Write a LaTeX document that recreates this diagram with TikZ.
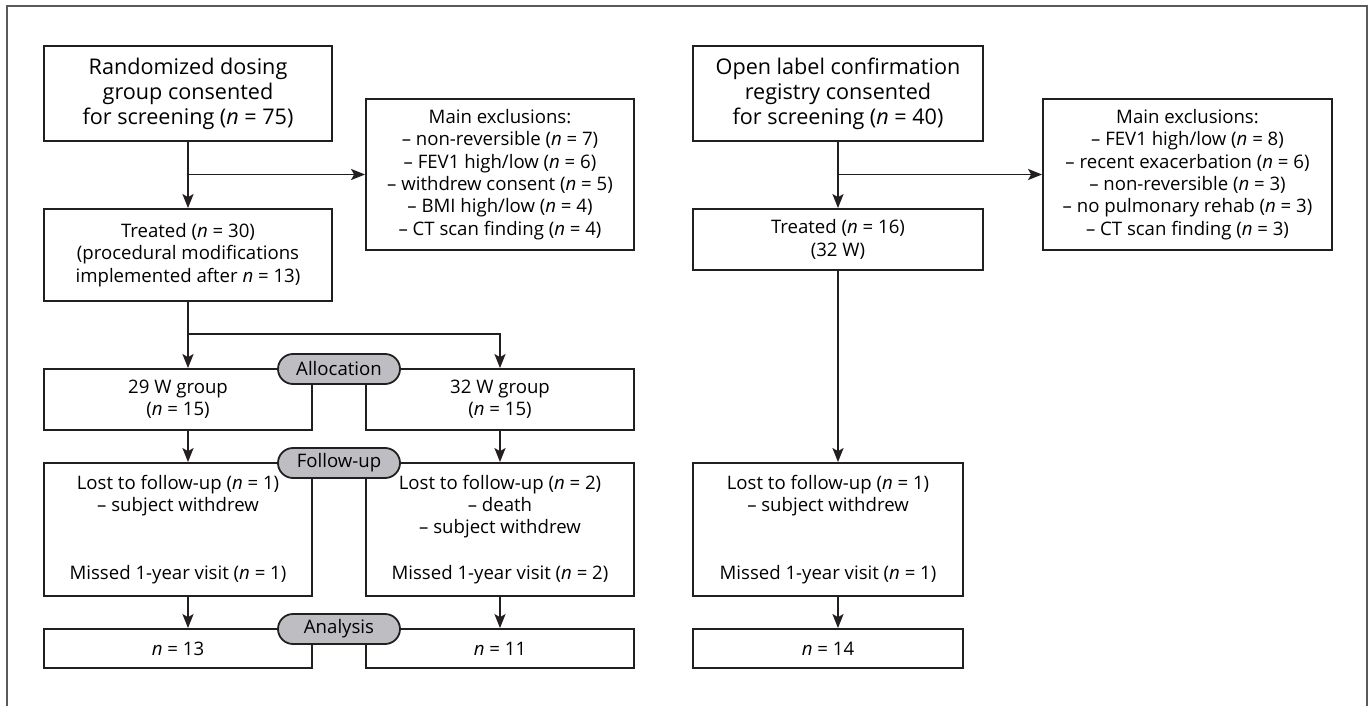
\documentclass[tikz,border=0pt]{standalone}
\usepackage{fontspec}
\setmainfont{Open Sans}
\usetikzlibrary{arrows.meta}
\definecolor{ink}{HTML}{231F20}
\definecolor{pillgray}{HTML}{BEBEC2}
\definecolor{framegray}{HTML}{5A5A5A}
\newcommand{\fsmall}{\fontsize{9.3}{11.15}\selectfont}
\newcommand{\fbig}{\fontsize{10.8}{12.5}\selectfont}
\begin{document}
\begin{tikzpicture}[x=0.5pt,y=-0.5pt,
  box/.style={draw=ink, line width=0.9pt, inner sep=0pt, align=center, font=\fsmall},
  bigbox/.style={box, font=\fbig},
  pill/.style={draw=ink, fill=pillgray, line width=0.9pt, rounded corners=7.5pt,
    minimum width=61pt, minimum height=15pt, inner sep=0pt, font=\fsmall},
  arr/.style={draw=ink, line width=0.9pt, -{Stealth[length=7pt,width=5.5pt,inset=1.5pt]}},
  ln/.style={draw=ink, line width=0.9pt},
  frame/.style={draw=framegray, line width=0.85pt}]
\useasboundingbox[fill=white] (0,0) rectangle (1371,706);
% frame
\draw[frame] (7,706) -- (7,6) -- (1367,6) -- (1367,706);

% ---------- left column ----------
\node[bigbox, minimum width=144pt, minimum height=47.5pt] (A) at (188,93.5)
  {Randomized dosing\\group consented\\for screening (\textit{n} = 75)};
\node[box, minimum width=134pt, minimum height=75.5pt] (exL) at (500,174.5)
  {Main exclusions:\\– non-reversible (\textit{n} = 7)\\– FEV1 high/low (\textit{n} = 6)\\– withdrew consent (\textit{n} = 5)\\– BMI high/low (\textit{n} = 4)\\– CT scan finding (\textit{n} = 4)};
\node[box, minimum width=144pt, minimum height=46pt] (trL) at (188,255)
  {Treated (\textit{n} = 30)\\(procedural modifications\\implemented after \textit{n} = 13)};
\node[box, minimum width=134pt, minimum height=30.5pt] (g29) at (178,399.5)
  {29 W group\\(\textit{n} = 15)};
\node[box, minimum width=134pt, minimum height=30.5pt] (g32) at (500,399.5)
  {32 W group\\(\textit{n} = 15)};
\node[box, minimum width=134pt, minimum height=66.5pt] (fuL) at (178,529.5)
  {Lost to follow-up (\textit{n} = 1)\\– subject withdrew\\[22.8pt]Missed 1-year visit (\textit{n} = 1)};
\node[box, minimum width=134pt, minimum height=66.5pt] (fuR) at (500,529.5)
  {Lost to follow-up (\textit{n} = 2)\\– death\\– subject withdrew\\[11.7pt]Missed 1-year visit (\textit{n} = 2)};
\node[box, minimum width=134pt, minimum height=19.5pt] (anL) at (178,648.5)
  {\textit{n} = 13};
\node[box, minimum width=134pt, minimum height=19.5pt] (anR) at (500,648.5)
  {\textit{n} = 11};

\node[pill] (pAlloc) at (339,369) {Allocation};
\node[pill] (pFollow) at (339,463) {Follow-up};
\node[pill] (pAnal) at (339,629) {Analysis};

\coordinate (brA) at (A.south |- exL.west);
\coordinate (s1) at (188,334);
\draw[arr] (A.south) -- (trL.north);
\draw[arr] (brA) -- (exL.west);
\draw[ln] (trL.south) -- (s1);
\draw[arr] (s1) -- (s1 |- g29.north);
\draw[arr] (s1) -- (s1 -| g32.north) -- (g32.north);
\draw[arr] (g29.south -| A.south) -- (fuL.north -| A.south);
\draw[arr] (g32.south) -- (fuR.north);
\draw[arr] (fuL.south -| A.south) -- (anL.north -| A.south);
\draw[arr] (fuR.south) -- (anR.north);

% ---------- right column ----------
\node[bigbox, minimum width=145pt, minimum height=47.5pt] (B) at (838,93.5)
  {Open label confirmation\\registry consented\\for screening (\textit{n} = 40)};
\node[box, minimum width=144.5pt, minimum height=75.5pt] (exR) at (1187.5,174.5)
  {Main exclusions:\\– FEV1 high/low (\textit{n} = 8)\\– recent exacerbation (\textit{n} = 6)\\– non-reversible (\textit{n} = 3)\\– no pulmonary rehab (\textit{n} = 3)\\– CT scan finding (\textit{n} = 3)};
\node[box, minimum width=145pt, minimum height=30.5pt] (trR) at (838,239.5)
  {Treated (\textit{n} = 16)\\(32 W)};
\node[box, minimum width=135pt, minimum height=66.5pt] (fuR2) at (828,529.5)
  {Lost to follow-up (\textit{n} = 1)\\– subject withdrew\\[22.8pt]Missed 1-year visit (\textit{n} = 1)};
\node[box, minimum width=135pt, minimum height=19.5pt] (anR2) at (828,648.5)
  {\textit{n} = 14};

\coordinate (brB) at (B.south |- exR.west);
\draw[arr] (B.south) -- (trR.north);
\draw[arr] (brB) -- (exR.west);
\draw[arr] (trR.south) -- (fuR2.north -| trR.south);
\draw[arr] (fuR2.south -| trR.south) -- (anR2.north -| trR.south);
\end{tikzpicture}
\end{document}
